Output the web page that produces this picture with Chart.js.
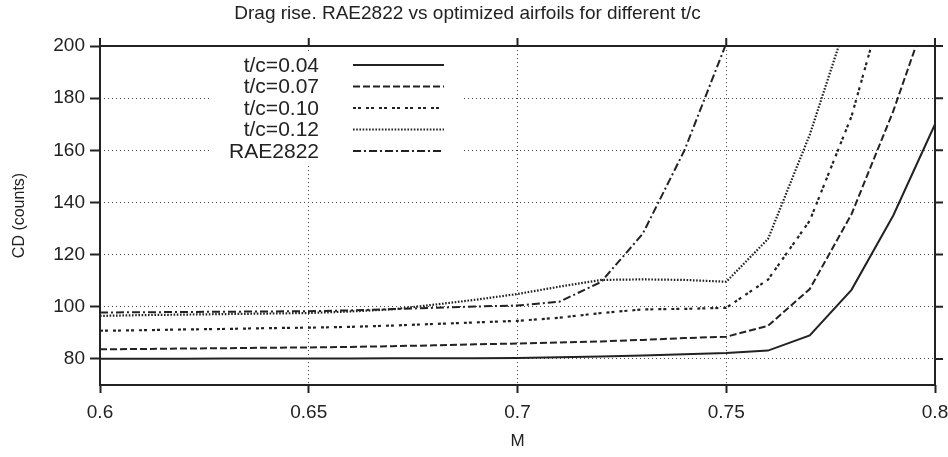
<!DOCTYPE html>
<html>
<head>
<meta charset="utf-8">
<script src="https://cdn.jsdelivr.net/npm/chart.js@4"></script>
<style>
  html, body { margin: 0; padding: 0; background: #fff; }
  #wrap { width: 948px; height: 457px; }
</style>
</head>
<body>
<div id="wrap"><canvas id="dragChart" width="948" height="457"></canvas></div>
<script>
// Mach numbers (x axis)
const mach = [0.60, 0.61, 0.62, 0.63, 0.64, 0.65, 0.66, 0.67, 0.68, 0.69, 0.70,
              0.71, 0.72, 0.73, 0.74, 0.75, 0.76, 0.77, 0.78, 0.79, 0.80];

// CD (counts)
const tc04 = [80.1, 80.1, 80.1, 80.2, 80.2, 80.2, 80.2, 80.3, 80.3, 80.3, 80.4,
              80.6, 80.9, 81.3, 81.8, 82.3, 83.2, 89.0, 106.5, 135, 170];
const tc07 = [83.7, 83.8, 84.0, 84.1, 84.3, 84.4, 84.6, 84.9, 85.2, 85.6, 85.9,
              86.3, 86.7, 87.3, 88.0, 88.5, 92.7, 106.8, 135.5, 175, 221];
const tc10 = [90.8, 91.0, 91.3, 91.5, 91.8, 92.0, 92.3, 92.8, 93.4, 94.0, 94.6,
              95.8, 97.6, 99.0, 99.2, 99.6, 110.4, 133, 173, 230, null];
const tc12 = [96.5, 96.8, 97.0, 97.2, 97.4, 97.6, 98.2, 99.0, 100.8, 102.7, 104.9,
              107.7, 110.3, 110.5, 110.3, 109.6, 126, 166, 215, null, null];
const rae2822 = [97.8, 97.9, 98.0, 98.1, 98.2, 98.3, 98.6, 99.1, 99.6, 100.1, 100.5,
                 101.9, 109.5, 128, 160, 201, null, null, null, null, null];

const seriesNames = ['t/c=0.04', 't/c=0.07', 't/c=0.10', 't/c=0.12', 'RAE2822'];
const xTicks = [0.6, 0.65, 0.7, 0.75, 0.8];
const yTicks = [80, 100, 120, 140, 160, 180, 200];

const INK = '#222';
const textFont = "'Liberation Sans', Arial, Helvetica, sans-serif";
const tickFont = { family: textFont, size: 19 };

const toPoints = arr => mach.map((m, i) => ({ x: m, y: arr[i] }));

const styles = [
  { dash: [], width: 2 },
  { dash: [7, 3], width: 2 },
  { dash: [3, 2, 3, 5], width: 2.2 },
  { dash: [1.6, 1.6], width: 2.2 },
  { dash: [8, 3, 2, 3], width: 2 }
];

const datasets = [tc04, tc07, tc10, tc12, rae2822].map((arr, i) => ({
  label: seriesNames[i],
  data: toPoints(arr),
  borderColor: INK,
  borderWidth: styles[i].width,
  borderDash: styles[i].dash,
  pointRadius: 0,
  tension: 0,
  fill: false,
  spanGaps: false,
  clip: 0
}));

// box round the plot + ticks on top and right side
const framePlugin = {
  id: 'frame',
  afterDatasetsDraw(chart) {
    const { ctx, chartArea: a, scales } = chart;
    ctx.save();
    ctx.strokeStyle = INK;
    ctx.lineWidth = 2;
    ctx.setLineDash([]);
    ctx.strokeRect(a.left, a.top, a.right - a.left, a.bottom - a.top);
    ctx.beginPath();
    xTicks.forEach(v => {
      const px = scales.x.getPixelForValue(v);
      ctx.moveTo(px, a.top);
      ctx.lineTo(px, a.top - 8);
    });
    yTicks.forEach(v => {
      const py = scales.y.getPixelForValue(v);
      ctx.moveTo(a.right, py);
      ctx.lineTo(a.right + 8, py);
    });
    ctx.stroke();
    ctx.restore();
  }
};

// legend inside the plot: text right aligned, line sample to the right
const legendPlugin = {
  id: 'innerLegend',
  afterDatasetsDraw(chart) {
    const { ctx, chartArea: a } = chart;
    const boxL = a.left + 112, boxT = a.top + 7;
    ctx.save();
    ctx.fillStyle = '#fff';
    ctx.fillRect(boxL, boxT, 251, 110);
    ctx.font = '21px ' + textFont;
    ctx.textAlign = 'right';
    ctx.textBaseline = 'middle';
    chart.data.datasets.forEach((ds, i) => {
      const y = a.top + 19 + i * 21.5;
      ctx.fillStyle = INK;
      ctx.fillText(ds.label, a.left + 219, y + 1);
      ctx.strokeStyle = INK;
      ctx.lineWidth = ds.borderWidth;
      ctx.setLineDash(ds.borderDash);
      ctx.beginPath();
      ctx.moveTo(a.left + 253, y);
      ctx.lineTo(a.left + 344, y);
      ctx.stroke();
    });
    ctx.restore();
  }
};

new Chart(document.getElementById('dragChart'), {
  type: 'line',
  data: { datasets },
  options: {
    responsive: false,
    animation: false,
    layout: { padding: { left: 0, right: 13, top: 0, bottom: 0 } },
    plugins: {
      legend: { display: false },
      tooltip: { enabled: false },
      title: {
        display: true,
        text: 'Drag rise. RAE2822 vs optimized airfoils for different t/c',
        color: INK,
        font: { family: textFont, size: 19, weight: 'normal' },
        padding: { top: 2, bottom: 21.2 }
      }
    },
    scales: {
      x: {
        type: 'linear',
        min: 0.6,
        max: 0.8,
        afterBuildTicks: scale => { scale.ticks = xTicks.map(v => ({ value: v })); },
        afterFit: scale => {
          scale.height = 72;
          scale.paddingLeft = 0;
          scale.paddingRight = 0;
        },
        ticks: {
          color: INK,
          font: tickFont,
          padding: 8,
          maxRotation: 0,
          callback: v => String(v)
        },
        grid: {
          color: '#444',
          lineWidth: 1,
          tickLength: 8,
          tickColor: INK,
          tickWidth: 2,
          tickBorderDash: []
        },
        border: { display: false, dash: [1, 3] },
        title: {
          display: true,
          text: 'M',
          color: INK,
          font: { family: textFont, size: 17 },
          padding: { top: 0, bottom: 5 }
        }
      },
      y: {
        type: 'linear',
        min: 70,
        max: 200,
        afterBuildTicks: scale => { scale.ticks = yTicks.map(v => ({ value: v })); },
        afterFit: scale => { scale.width = 100; },
        ticks: {
          color: INK,
          font: tickFont,
          padding: 5,
          callback: v => String(v)
        },
        grid: {
          color: '#444',
          lineWidth: 1,
          tickLength: 10,
          tickColor: INK,
          tickWidth: 2,
          tickBorderDash: []
        },
        border: { display: false, dash: [1, 3] },
        title: {
          display: true,
          text: 'CD (counts)',
          color: INK,
          font: { family: textFont, size: 16 },
          padding: { top: 10, bottom: 0 }
        }
      }
    }
  },
  plugins: [framePlugin, legendPlugin]
});
</script>
</body>
</html>
